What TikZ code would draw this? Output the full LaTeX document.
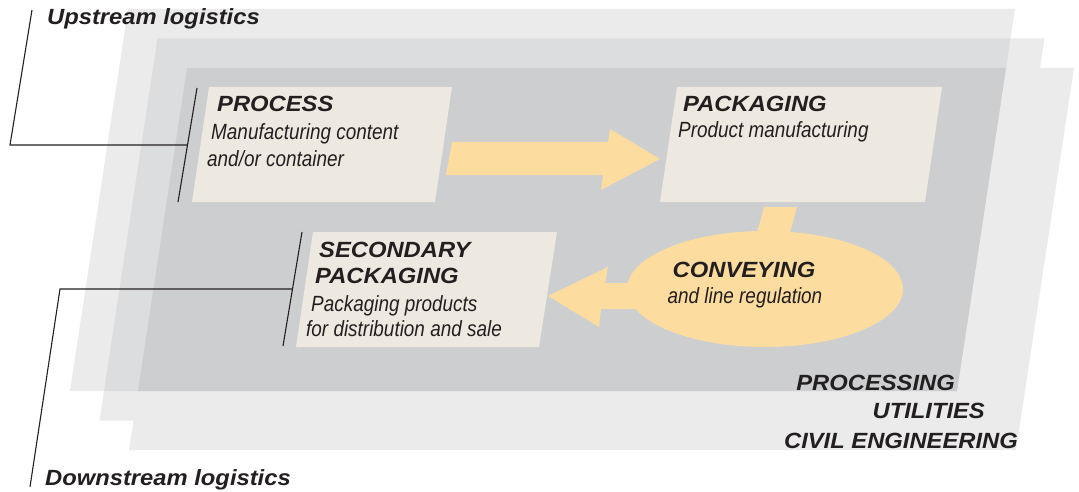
\documentclass[tikz,border=0pt]{standalone}
\usepackage{fontspec}
\setmainfont{Liberation Sans}
\newfontfamily\headfont[FakeStretch=1.08]{Liberation Sans}
\newfontfamily\descfont[FakeStretch=0.86]{Liberation Sans}
\usetikzlibrary{positioning,calc}
\definecolor{layerlight}{HTML}{EBEBEC}
\definecolor{layermid}{HTML}{DCDDDF}
\definecolor{layerdark}{HTML}{CDCED0}
\definecolor{boxbeige}{HTML}{EDE9E1}
\definecolor{flowyellow}{HTML}{FDDC9F}
\definecolor{inkgray}{HTML}{231F20}
\newcommand\layerpath[1]{(128+#1,9+#1) -- (1015+#1,9+#1) -- (957+#1,391+#1) -- (70+#1,391+#1) -- cycle}
\newcommand\headtext{\headfont\fontsize{22}{26}\selectfont\bfseries\itshape}
\newcommand\desctext{\descfont\fontsize{22}{26}\selectfont\itshape}
\tikzset{
  boxtitle/.style={font=\headtext, text=inkgray, inner sep=0pt, anchor=base west},
  boxtext/.style={font=\desctext, text=inkgray, inner sep=0pt, anchor=base west},
  leader/.style={draw=inkgray, line width=1.1pt},
}

\begin{document}
\begin{tikzpicture}[x=1pt,y=-1pt]
  \useasboundingbox (0,0) rectangle (1079,492);
  % the three planes
  \foreach \d in {0,29.5,59} \fill[layerlight] \layerpath{\d};
  \begin{scope}
    \clip \layerpath{0};
    \fill[layermid] \layerpath{29.5};
    \clip \layerpath{29.5};
    \fill[layerdark] \layerpath{59};
  \end{scope}
  % boxes
  \fill[boxbeige] (209,87) -- (452,87) -- (435,202) -- (192,202) -- cycle;
  \fill[boxbeige] (677,87) -- (942,87) -- (925,202) -- (660,202) -- cycle;
  \fill[boxbeige] (313,232) -- (557,232) -- (539,347) -- (296,347) -- cycle;
  % flow
  \fill[flowyellow] (452,142) -- (608,142) -- (610,129) -- (660,159) -- (601,190) -- (603,175) -- (446,175) -- cycle;
  \fill[flowyellow] (764,207) -- (797,207) -- (788,240) -- (755,240) -- cycle;
  \fill[flowyellow] (765,289) ellipse [x radius=138, y radius=58];
  \fill[flowyellow] (660,283) -- (605,283) -- (608,267) -- (548,296) -- (599,327) -- (601,309) -- (660,309) -- cycle;

  \node[boxtitle] (proc) at (217,112) {PROCESS};
  \node[boxtext] (procA) at (211,140) {Manufacturing content};
  \node[boxtext] (procB) at (207,166) {and/or container};
  \node[boxtitle] (pack) at (683,112) {PACKAGING};
  \node[boxtext] (packA) at (678,138) {Product manufacturing};
  \node[boxtitle] (sec) at (319,257) {SECONDARY};
  \node[boxtitle] (secB) at (315,283) {PACKAGING};
  \node[boxtext] (secC) at (311,311) {Packaging products};
  \node[boxtext] (secD) at (306,336) {for distribution and sale};
  \node[boxtitle, anchor=base] (conv) at (744,277) {CONVEYING};
  \node[boxtext, anchor=base] (convA) at (745,303) {and line regulation};

  \node[boxtitle, anchor=base east] (procg) at (955,390) {PROCESSING};
  \node[boxtitle, anchor=base east] (util) at (985,418) {UTILITIES};
  \node[boxtitle, anchor=base east] (civil) at (1018,448) {CIVIL ENGINEERING};
  \node[boxtitle] (up) at (47,25) {Upstream logistics};
  \node[boxtitle] (down) at (45,485) {Downstream logistics};

  % leaders
  \coordinate (procTop) at (197,88);
  \coordinate (procBot) at (178,202);
  \coordinate (secTop) at (302,232);
  \coordinate (secBot) at (283,346);
  \coordinate (upEnd) at (32,10);
  \coordinate (upCorner) at (10,145);
  \coordinate (downEnd) at (30,487);
  \coordinate (downCorner) at (60,289);
  \draw[leader] (procTop) -- (procBot);
  \draw[leader] (secTop) -- (secBot);
  \draw[leader] (upEnd) -- (upCorner) -- ($(procTop)!0.5!(procBot)$);
  \draw[leader] (downEnd) -- (downCorner) -- ($(secTop)!0.5!(secBot)$);
\end{tikzpicture}
\end{document}
